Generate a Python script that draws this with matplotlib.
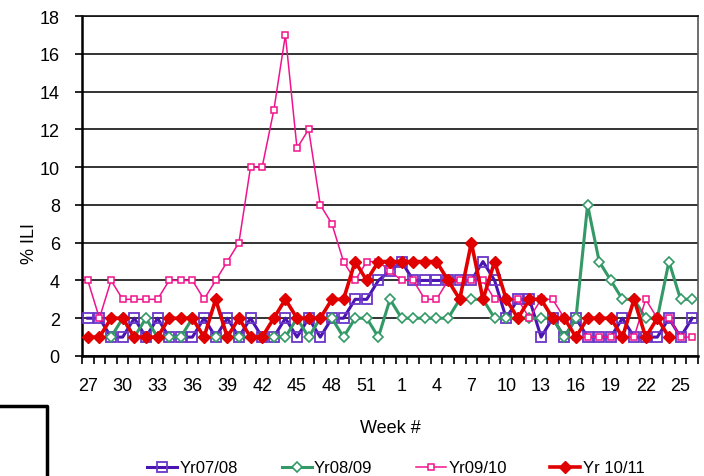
import matplotlib
matplotlib.use("Agg")
import matplotlib.pyplot as plt
from matplotlib.lines import Line2D
import numpy as np

plt.rcParams['font.family'] = ['Liberation Sans', 'DejaVu Sans']

weeks = list(range(27, 54)) + list(range(1, 27))
N = None
yr0708 = [2, 2, 1, 1, 2, 1, 2, 1, 1, 1, 2, 1, 2, 1, 2, 1, 1, 2, 1, 2, 1, 2, 2, 3, 3, 4,
          4.5, 5, 4, 4, 4, 4, 4, 4, 5, 4, 2, 3, 3, 1, 2, 1, 2, 1, 1, 1, 2, 1, 1, 1, 2, 1, 2]
yr0809 = [N, N, 1, 2, 1, 2, 1, 1, 1, 2, 1, 1, 1, 1, 1, 1, 1, 1, 2, 1, 2, 2, 1, 2, 2, 1,
          3, 2, 2, 2, 2, 2, 3, 3, 3, 2, 2, 2, 2, 2, 2, 1, 2, 8, 5, 4, 3, 3, 2, 2, 5, 3, 3]
yr0910 = [4, 2, 4, 3, 3, 3, 3, 4, 4, 4, 3, 4, 5, 6, 10, 10, 13, 17, 11, 12, 8, 7, 5, 4, 5, 5,
          4.5, 4, 4, 3, 3, 4, 4, 4, 4, 3, 3, 3, 2, 3, 3, 2, 1, 1, 1, 1, 1, 1, 3, 2, 2, 1, 1]
yr1011 = [1, 1, 2, 2, 1, 1, 1, 2, 2, 2, 1, 3, 1, 2, 1, 1, 2, 3, 2, 2, 2, 3, 3, 5, 4, 5,
          5, 5, 5, 5, 5, 4, 3, 6, 3, 5, 3, 2, 3, 3, 2, 2, 1, 2, 2, 2, 1, 3, 1, 2, 1, N, N]
series_names = ['Yr07/08', 'Yr08/09', 'Yr09/10', 'Yr 10/11']
y_ticks = list(range(0, 19, 2))

def arr(v):
    return np.array([np.nan if a is None else a for a in v], dtype=float)

W, H = 704, 477
fig = plt.figure(figsize=(W / 100, H / 100), dpi=100)
ax = fig.add_axes([82 / W, 1 - 357 / H, (698 - 82) / W, (357 - 17) / H])

x = np.arange(len(weeks))
ax.plot(x, arr(yr0708), color='#4A14B0', lw=2.2, marker='s', ms=7.6,
        mfc='none', mec='#6A35C8', mew=1.3, label=series_names[0], zorder=3)
ax.plot(x, arr(yr0809), color='#339966', lw=2.2, marker='D', ms=5.0,
        mfc='white', mec='#339966', mew=1.2, label=series_names[1], zorder=4)
ax.plot(x, arr(yr0910), color='#F0148C', lw=1.1, marker='s', ms=4.8,
        mfc='white', mec='#F0148C', mew=1.1, label=series_names[2], zorder=5)
ax.plot(x, arr(yr1011), color='#E00000', lw=2.6, marker='D', ms=6.3,
        mfc='#E00000', mec='#E00000', label=series_names[3], zorder=6)

ax.set_xlim(-0.5, len(weeks) - 0.5)
ax.set_ylim(0, 18)
ax.set_yticks(y_ticks)
ax.yaxis.grid(True, color='#111111', lw=1.2)
ax.set_axisbelow(True)

# x: tick marks at category boundaries, labels every 3 categories
ax.set_xticks(np.arange(-0.5, len(weeks), 1.0), minor=True)
lab_idx = list(range(0, len(weeks), 3))
ax.set_xticks(lab_idx)
ax.set_xticklabels([str(weeks[i]) for i in lab_idx])
ax.tick_params(axis='x', which='major', length=0, pad=15, labelsize=13)
ax.tick_params(axis='x', which='minor', length=6, width=1.2, color='black', direction='out')
ax.tick_params(axis='y', which='major', length=5, width=1.2, pad=11, labelsize=13)

for s in ['left', 'bottom']:
    ax.spines[s].set_color('black')
    ax.spines[s].set_linewidth(1.8)
ax.spines['right'].set_color('#555555')
ax.spines['right'].set_linewidth(1.2)
ax.spines['top'].set_color('#111111')
ax.spines['top'].set_linewidth(1.2)

fig.text(30 / W, 1 - 243 / H, '% ILI', rotation=90, ha='center', va='center', fontsize=13)
fig.text(390 / W, 1 - 429 / H, 'Week #', ha='center', va='center', fontsize=13)

handles, labels = ax.get_legend_handles_labels()
fig.legend(handles, labels, loc='center', bbox_to_anchor=(396 / W, 1 - 469 / H),
           ncol=4, frameon=False, fontsize=12, handlelength=1.8, handletextpad=0.15,
           columnspacing=2.6, borderaxespad=0, borderpad=0)

# stray box corner at lower left
fig.add_artist(Line2D([0, 47 / W, 47 / W], [1 - 407 / H, 1 - 407 / H, 0],
                      transform=fig.transFigure, color='black', lw=2.5))

fig.savefig('out.png', dpi=100)
